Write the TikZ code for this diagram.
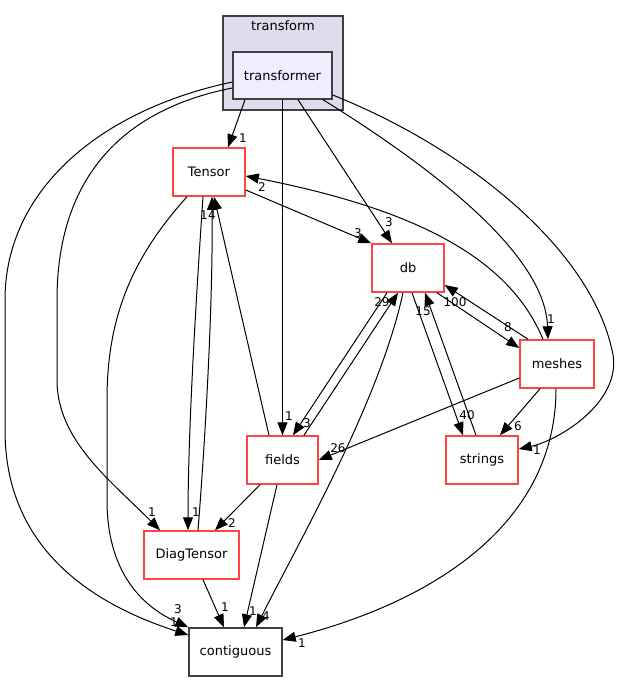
\documentclass[tikz,border=0pt]{standalone}
\usepackage{fontspec}
\setmainfont{DejaVu Sans}
\usepackage{tikz}
\usetikzlibrary{arrows.meta, positioning}

\definecolor{clusterfill}{HTML}{DDDDEE}
\definecolor{dirfill}{HTML}{EEEEFF}
\definecolor{dirred}{HTML}{FF4444}
\definecolor{dirgray}{HTML}{404040}

\begin{document}
\begin{tikzpicture}[
    x=1pt, y=-1pt,
    cluster/.style={rectangle, draw=dirgray, fill=clusterfill, line width=1.2pt, inner sep=0pt},
    curdir/.style={rectangle, draw=dirgray, fill=dirfill, line width=1.4pt, minimum height=47pt, inner sep=0pt, font=\fontsize{13}{15}\selectfont},
    reddir/.style={rectangle, draw=dirred, fill=white, line width=1.5pt, minimum height=48pt, inner sep=0pt, font=\fontsize{13}{15}\selectfont},
    leafdir/.style={reddir, draw=dirgray},
    dep/.style={-{Triangle[length=13pt, width=10pt]}, line width=1pt},
    lbl/.style={font=\fontsize{12}{14}\selectfont, inner sep=0pt}
]
\useasboundingbox (0,0) rectangle (619,681);

% Cluster
\node[cluster, minimum width=120pt, minimum height=94pt] (transform) at (283,63) {};
\node[lbl, font=\fontsize{13}{15}\selectfont, anchor=north] (transformtitle) at (283,20) {transform};
\node[curdir, minimum width=99pt] (transformer) at (282.5,75.5) {transformer};

% Directories
\node[reddir, minimum width=72pt] (Tensor) at (209,172) {Tensor};
\node[reddir, minimum width=72pt] (db) at (408,268) {db};
\node[reddir, minimum width=74pt] (meshes) at (557,364) {meshes};
\node[reddir, minimum width=71pt] (fields) at (282.5,460) {fields};
\node[reddir, minimum width=72pt] (strings) at (482,460) {strings};
\node[reddir, minimum width=95pt] (DiagTensor) at (191.5,555) {DiagTensor};
\node[leafdir, minimum width=93pt] (contiguous) at (235.5,652) {contiguous};

% Edges out of transformer
\draw[dep] ([xshift=-37.5]transformer.south) -- ([xshift=19]Tensor.north);
\draw[dep] ([xshift=15.5]transformer.south) -- ([xshift=-16]db.north);
\draw[dep] (transformer.south) -- (fields.north);
\draw[dep] ([xshift=40.5]transformer.south) .. controls (420,160) and (545,250) .. ([xshift=-9]meshes.north);
\draw[dep] ([yshift=-19.5]transformer.east) .. controls (470,150) and (590,250) .. (612,350)
    .. controls (625,400) and (560,440) .. ([yshift=11]strings.east);
\draw[dep] ([yshift=-12.5]transformer.west) .. controls (120,110) and (57,180) .. (57,300) -- (57,380)
    .. controls (57,440) and (110,480) .. ([xshift=-31.5]DiagTensor.north);
\draw[dep] ([yshift=-6.5]transformer.west) .. controls (100,110) and (5,190) .. (5,300) -- (5,430)
    .. controls (5,540) and (80,600) .. ([yshift=17]contiguous.west);

% Edges out of Tensor
\draw[dep] ([yshift=-18]Tensor.east) -- (db.north west);
\draw[dep] ([xshift=-6]Tensor.south) .. controls (196,300) and (188,430) .. ([xshift=-3.5]DiagTensor.north);
\draw[dep] ([xshift=-22]Tensor.south) .. controls (130,260) and (107,320) .. (107,400) -- (107,500)
    .. controls (107,580) and (150,610) .. (contiguous.north west);

% Edges out of db
\draw[dep] ([xshift=-21]db.south) -- ([xshift=10.5]fields.north);
\draw[dep] ([xshift=-5]db.south) .. controls (380,400) and (300,540) .. ([xshift=20.5]contiguous.north);
\draw[dep] ([xshift=4]db.south) -- ([xshift=-19]strings.north);
\draw[dep] ([xshift=29]db.south) -- ([yshift=16]meshes.west);

% Edges out of meshes
\draw[dep] ([xshift=-29]meshes.north) -- ([yshift=-17]db.east);
\draw[dep] ([xshift=-14]meshes.north) .. controls (510,260) and (420,210) .. ([yshift=-4]Tensor.east);
\draw[dep] ([yshift=-14]meshes.west) -- (fields.east);
\draw[dep] ([xshift=-17]meshes.south) -- ([xshift=18]strings.north);
\draw[dep] ([xshift=-1]meshes.south) .. controls (556,520) and (440,600) .. ([yshift=12]contiguous.east);

% Edges out of fields
\draw[dep] ([xshift=21.5]fields.north) -- ([xshift=-10]db.south);
\draw[dep] ([xshift=-13.5]fields.north) -- ([xshift=5]Tensor.south);
\draw[dep] ([xshift=-22.5]fields.south) -- ([xshift=23.5]DiagTensor.north);
\draw[dep] ([xshift=-5.5]fields.south) -- ([xshift=8.5]contiguous.north);

% Edges out of DiagTensor and strings
\draw[dep] ([xshift=6.5]DiagTensor.north) .. controls (206,430) and (213,300) .. ([xshift=3]Tensor.south);
\draw[dep] ([xshift=11.5]DiagTensor.south) -- ([xshift=-11.5]contiguous.north);
\draw[dep] ([xshift=-6]strings.north) -- ([xshift=17]db.south);

% Edge labels
\foreach \x/\y/\t [count=\i] in {
    243/138/1, 389/222/3, 289/416/1, 551/319/1, 537/450/1, 152/512/1, 174/622/1,
    358/233/3, 196/512/1, 178/609/3,
    307/423/3, 266/616/4, 467/415/40, 508/327/8,
    455/302/100, 262/187/2, 338/448/26, 518/426/6, 302/643/1,
    382/302/29, 212/215/4, 232/523/2, 253/611/1,
    204/215/1, 225/607/1,
    423/311/15}
    \node[lbl] (lbl\i) at (\x,\y) {\t};

\end{tikzpicture}
\end{document}
